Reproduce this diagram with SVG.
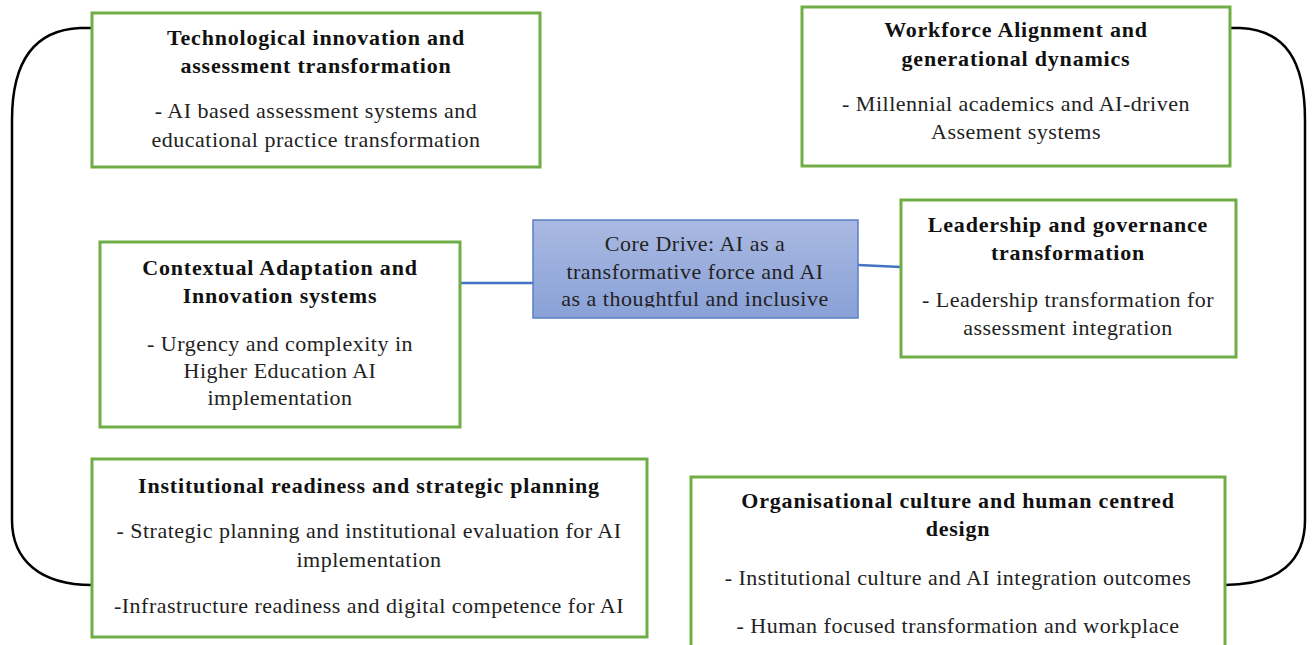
<svg xmlns="http://www.w3.org/2000/svg" width="1312" height="645" viewBox="0 0 1312 645">
  <defs>
    <linearGradient id="coreFill" x1="0" y1="0" x2="0" y2="1">
      <stop offset="0" stop-color="#aab9e2"/>
      <stop offset="1" stop-color="#89a1d7"/>
    </linearGradient>
    <clipPath id="coreClip">
      <rect x="533" y="220" width="325" height="87.5"/>
    </clipPath>
    <style>
      .box { fill: #ffffff; stroke: #70ad47; stroke-width: 3; }
      .core { fill: url(#coreFill); stroke: #5b7fc7; stroke-width: 1.5; }
      .title { font-family: "Liberation Serif", "Times New Roman", serif; font-size: 22px; letter-spacing: 0.8px; font-weight: bold; fill: #111111; text-anchor: middle; }
      .body { font-family: "Liberation Serif", "Times New Roman", serif; font-size: 22px; letter-spacing: 0.5px; fill: #222222; text-anchor: middle; }
      .link { stroke: #4472c4; stroke-width: 2.5; fill: none; }
      .loop { stroke: #000000; stroke-width: 2.5; fill: none; }
    </style>
  </defs>
  <rect width="1312" height="645" fill="#ffffff"/>

  <g id="connectors">
    <path class="loop" d="M92,28 L80,28 C35,30 12,60 12,120 L12,520 C12,560 40,585 92,585"/>
    <path class="loop" d="M1230,28 L1240,28 C1285,30 1305,60 1305,120 L1305,520 C1305,560 1280,585 1225,585"/>
    <line class="link" x1="460" y1="283" x2="533" y2="283"/>
    <line class="link" x1="858" y1="265" x2="901" y2="267"/>
  </g>

  <g id="node-technological">
    <rect class="box" x="92" y="13" width="448" height="154"/>
    <text class="title" x="316" y="45">Technological innovation and</text>
    <text class="title" x="316" y="73">assessment transformation</text>
    <text class="body" x="316" y="118">- AI based assessment systems and</text>
    <text class="body" x="316" y="147">educational practice transformation</text>
  </g>

  <g id="node-workforce">
    <rect class="box" x="802" y="7" width="428" height="159"/>
    <text class="title" x="1016" y="37">Workforce Alignment and</text>
    <text class="title" x="1016" y="66">generational dynamics</text>
    <text class="body" x="1016" y="111">- Millennial academics and AI-driven</text>
    <text class="body" x="1016" y="139">Assement systems</text>
  </g>

  <g id="node-contextual">
    <rect class="box" x="100" y="242" width="360" height="185"/>
    <text class="title" x="280" y="275">Contextual Adaptation and</text>
    <text class="title" x="280" y="303">Innovation systems</text>
    <text class="body" x="280" y="351">- Urgency and complexity in</text>
    <text class="body" x="280" y="378">Higher Education AI</text>
    <text class="body" x="280" y="405">implementation</text>
  </g>

  <g id="node-core">
    <rect class="core" x="533" y="220" width="325" height="98"/>
    <g clip-path="url(#coreClip)">
      <text class="body" x="695" y="251">Core Drive: AI as a</text>
      <text class="body" x="695" y="279">transformative force and AI</text>
      <text class="body" x="695" y="306">as a thoughtful and inclusive</text>
    </g>
  </g>

  <g id="node-leadership">
    <rect class="box" x="901" y="200" width="335" height="157"/>
    <text class="title" x="1068" y="232">Leadership and governance</text>
    <text class="title" x="1068" y="260">transformation</text>
    <text class="body" x="1068" y="307">- Leadership transformation for</text>
    <text class="body" x="1068" y="335">assessment integration</text>
  </g>

  <g id="node-institutional">
    <rect class="box" x="92" y="459" width="555" height="178"/>
    <text class="title" x="369" y="493">Institutional readiness and strategic planning</text>
    <text class="body" x="369" y="538">- Strategic planning and institutional evaluation for AI</text>
    <text class="body" x="369" y="567">implementation</text>
    <text class="body" x="369" y="613">-Infrastructure readiness and digital competence for AI</text>
  </g>

  <g id="node-organisational">
    <rect class="box" x="691" y="477" width="534" height="175"/>
    <text class="title" x="958" y="508">Organisational culture and human centred</text>
    <text class="title" x="958" y="536">design</text>
    <text class="body" x="958" y="585">- Institutional culture and AI integration outcomes</text>
    <text class="body" x="958" y="633">- Human focused transformation and workplace</text>
  </g>
</svg>
